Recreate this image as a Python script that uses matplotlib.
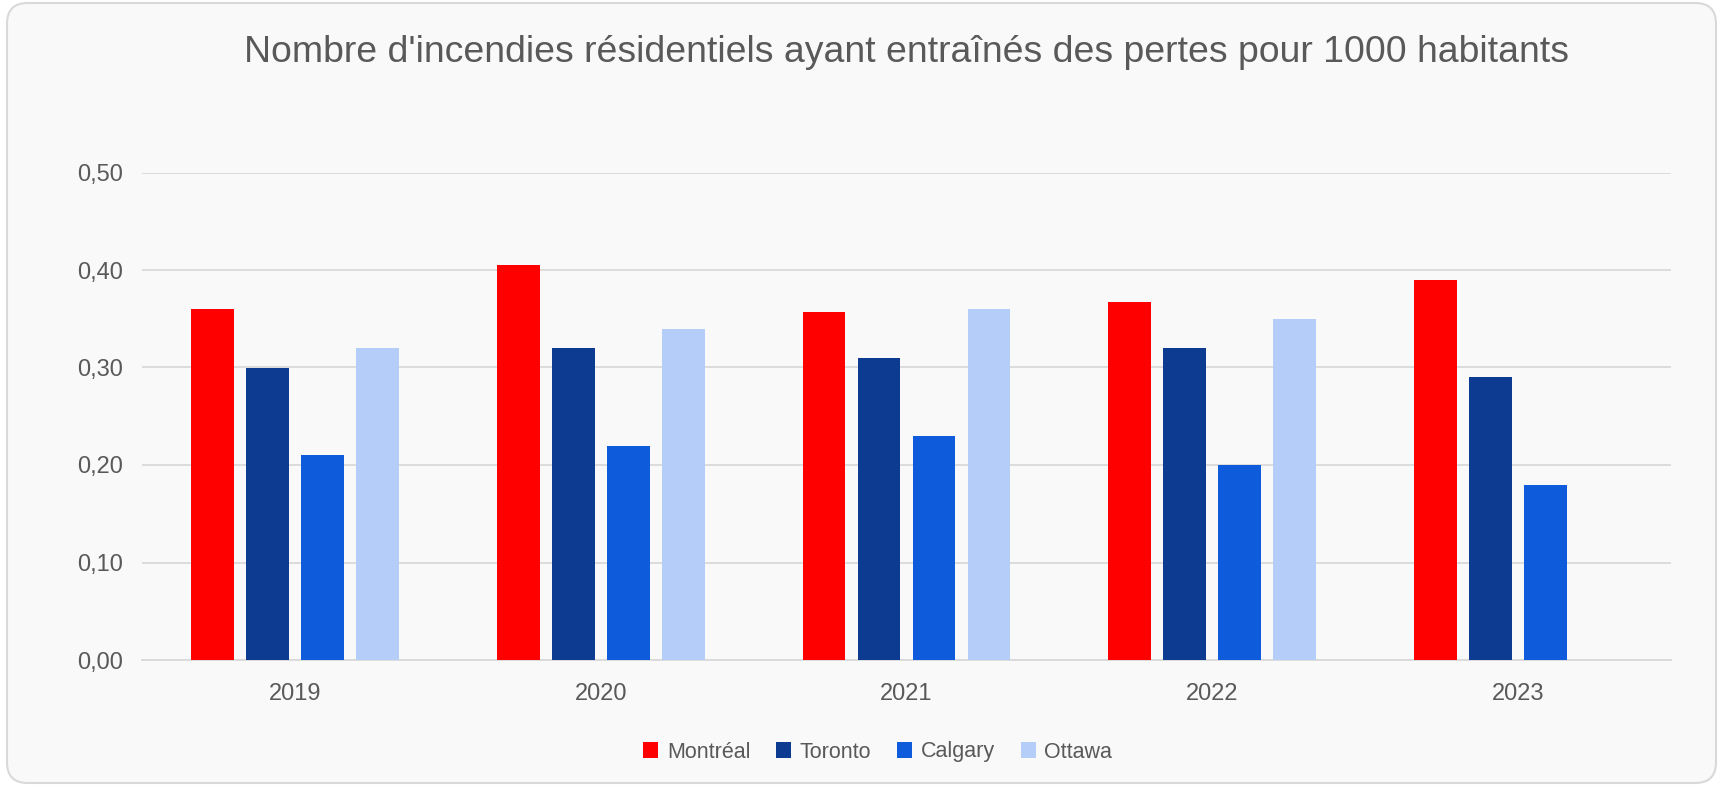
import matplotlib
matplotlib.use("Agg")
import matplotlib.pyplot as plt
import numpy as np
from matplotlib.patches import FancyBboxPatch, Patch
from matplotlib.ticker import FuncFormatter

years = ["2019", "2020", "2021", "2022", "2023"]
series_names = ["Montréal", "Toronto", "Calgary", "Ottawa"]
montreal = [0.36, 0.405, 0.357, 0.367, 0.39]
toronto = [0.30, 0.32, 0.31, 0.32, 0.29]
calgary = [0.21, 0.22, 0.23, 0.20, 0.18]
ottawa = [0.32, 0.34, 0.36, 0.35, np.nan]
colors = ["#ff0000", "#0c3b91", "#0e5bdb", "#b4cdf9"]
title = "Nombre d'incendies résidentiels ayant entraînés des pertes pour 1000 habitants"

plt.rcParams['font.family'] = ['Liberation Sans', 'DejaVu Sans']
txt = "#595959"

fig = plt.figure(figsize=(17.21, 7.86), dpi=100)
fig.patch.set_facecolor("white")
frame = FancyBboxPatch((7/1721, 3/786), 1709/1721, 780/786,
                       boxstyle="round,pad=0,rounding_size=0.012",
                       transform=fig.transFigure, facecolor="#f9f9f9",
                       edgecolor="#d9d9d9", linewidth=1.5, zorder=-10,
                       mutation_aspect=1721/786)
fig.patches.append(frame)

ax = fig.add_axes([142/1721, 1-660/786, (1671-142)/1721, (660-172.5)/786])
ax.set_facecolor("none")
ax.set_zorder(1)

x = np.arange(len(years))
width = 0.14
step = 0.18
data = [montreal, toronto, calgary, ottawa]
for i, (name, vals, c) in enumerate(zip(series_names, data, colors)):
    ax.bar(x + (i - 1.5) * step, vals, width=width, color=c, label=name, zorder=3)

ax.set_xlim(-0.5, len(years) - 0.5)
ax.set_ylim(0, 0.5)
ax.set_yticks(np.arange(0, 0.51, 0.1))
ax.yaxis.set_major_formatter(FuncFormatter(lambda v, p: f"{v:.2f}".replace(".", ",")))
ax.set_xticks(x)
ax.set_xticklabels(years)
ax.grid(axis="y", color="#d9d9d9", linewidth=1.3, zorder=0)
ax.set_axisbelow(True)
for s in ["top", "right", "left"]:
    ax.spines[s].set_visible(False)
ax.spines["bottom"].set_color("#d9d9d9")
ax.spines["bottom"].set_linewidth(1.3)
ax.tick_params(axis="both", length=0, labelsize=17, labelcolor=txt)
ax.tick_params(axis="y", pad=13.5)
ax.tick_params(axis="x", pad=16.5)

fig.text(0.527, 1-53/786, title, ha="center", va="center", fontsize=26.9, color=txt)

handles = [Patch(facecolor=c, edgecolor="none") for c in colors]
fig.legend(handles, series_names, loc="center", bbox_to_anchor=(0.51, 1-752/786),
           ncol=4, frameon=False, fontsize=15.5, labelcolor=txt,
           handlelength=0.7, handleheight=0.7, handletextpad=0.4, columnspacing=1.2)

fig.savefig("out.png", dpi=100, facecolor=fig.get_facecolor())
